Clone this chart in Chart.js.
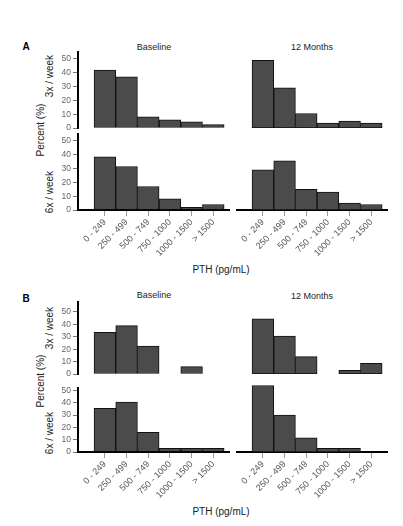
<!DOCTYPE html>
<html>
<head>
<meta charset="utf-8">
<script src="https://cdn.jsdelivr.net/npm/chart.js@4"></script>
<style>
  body { margin: 0; background: #fff; width: 403px; height: 526px; position: relative; overflow: hidden;
         font-family: "Liberation Sans", Arial, sans-serif; }
  canvas { position: absolute; }
  .t { position: absolute; white-space: nowrap; transform: translate(-50%, -50%); color: #222; line-height: 1; }
  .v { transform: translate(-50%, -50%) rotate(-90deg); }
</style>
</head>
<body>

<div class="t" style="left:26px;top:47px;font-size:10px;font-weight:bold;color:#000;">A</div>
<div class="t" style="left:154px;top:47px;font-size:9px;">Baseline</div>
<div class="t" style="left:312px;top:47px;font-size:9px;">12 Months</div>
<div class="t v" style="left:41px;top:130px;font-size:10px;">Percent (%)</div>
<div class="t v" style="left:50px;top:76px;font-size:10px;">3x / week</div>
<div class="t v" style="left:50px;top:192px;font-size:10px;">6x / week</div>
<div class="t" style="left:221px;top:270px;font-size:10px;">PTH (pg/mL)</div>

<div class="t" style="left:26px;top:299px;font-size:10px;font-weight:bold;color:#000;">B</div>
<div class="t" style="left:154px;top:295px;font-size:9px;">Baseline</div>
<div class="t" style="left:312px;top:296px;font-size:9px;">12 Months</div>
<div class="t v" style="left:41px;top:381px;font-size:10px;">Percent (%)</div>
<div class="t v" style="left:50px;top:328px;font-size:10px;">3x / week</div>
<div class="t v" style="left:50px;top:433px;font-size:10px;">6x / week</div>
<div class="t" style="left:221px;top:512px;font-size:10px;">PTH (pg/mL)</div>

<script>
// PTH categories
const pthLabels = ["0 - 249", "250 - 499", "500 - 749", "750 - 1000", "1000 - 1500", "> 1500"];
const yTicks = [0, 10, 20, 30, 40, 50];

// Panel A (percent of patients)
const aBase3x = [42, 37, 8, 6, 4.5, 2.5];
const a12m3x = [49, 29, 10.5, 3.5, 5, 3.5];
const aBase6x = [38.5, 31.5, 17, 8, 2, 4];
const a12m6x = [29, 35.5, 15, 13, 5, 4];

// Panel B
const bBase3x = [33.5, 39, 22.5, 0, 6, 0];
const b12m3x = [44.5, 30.5, 14, 0, 3, 8.5];
const bBase6x = [35.5, 40.5, 16, 3, 3, 3];
const b12m6x = [54, 30, 11.5, 3, 3, 0];

Chart.defaults.font.family = '"Liberation Sans", Arial, sans-serif';

const panels = [
  { data: aBase3x, left: 48, top: 44, h: 92, yAxis: true, xAxis: false, max: 55 },
  { data: a12m3x, left: 236, top: 44, h: 92, yAxis: false, xAxis: false, max: 55 },
  { data: aBase6x, left: 48, top: 126, h: 134, yAxis: true, xAxis: true, max: 55 },
  { data: a12m6x, left: 236, top: 126, h: 134, yAxis: false, xAxis: true, max: 55 },
  { data: bBase3x, left: 48, top: 294, h: 88, yAxis: true, xAxis: false, max: 58 },
  { data: b12m3x, left: 236, top: 294, h: 88, yAxis: false, xAxis: false, max: 58 },
  { data: bBase6x, left: 48, top: 380, h: 122, yAxis: true, xAxis: true, max: 52 },
  { data: b12m6x, left: 236, top: 375, h: 127, yAxis: false, xAxis: true, max: 56 }
];

panels.forEach(p => {
  const canvas = document.createElement("canvas");
  const w = p.yAxis ? 182 : 152;
  canvas.width = w;
  canvas.height = p.h;
  canvas.style.left = p.left + "px";
  canvas.style.top = p.top + "px";
  canvas.style.width = w + "px";
  canvas.style.height = p.h + "px";
  document.body.appendChild(canvas);

  new Chart(canvas.getContext("2d"), {
    type: "bar",
    data: {
      datasets: [{
        data: p.data.map((v, i) => ({ x: i, y: v })),
        backgroundColor: "#4b4b4b",
        borderColor: "#111",
        borderWidth: 1,
        borderSkipped: false,
        barPercentage: 1,
        categoryPercentage: 1
      }]
    },
    options: {
      responsive: false,
      animation: false,
      layout: { padding: { top: 8, bottom: p.xAxis ? 0 : 8, left: 0, right: 0 } },
      plugins: { legend: { display: false }, tooltip: { enabled: false } },
      scales: {
        x: {
          type: "linear",
          display: p.xAxis,
          min: -1.24,
          max: 5.77,
          offset: false,
          afterBuildTicks: s => { s.ticks = pthLabels.map((_, i) => ({ value: i })); },
          afterFit: s => { if (p.xAxis) s.height = 50; },
          border: { display: true, color: "#000", width: 2 },
          grid: { display: true, drawOnChartArea: false, drawTicks: true, tickLength: 6, color: "#999", offset: false },
          ticks: {
            autoSkip: false,
            minRotation: 45,
            maxRotation: 45,
            padding: 1,
            color: "#555",
            font: { size: 9 },
            callback: v => pthLabels[v] ?? ""
          }
        },
        y: {
          display: p.yAxis,
          min: 0,
          max: p.max,
          afterBuildTicks: s => { s.ticks = yTicks.map(v => ({ value: v })); },
          afterFit: s => { if (p.yAxis) s.width = 30; },
          border: { display: true, color: "#000", width: 2 },
          grid: { display: true, drawOnChartArea: false, drawTicks: true, tickLength: 5, color: "#777" },
          ticks: { autoSkip: false, padding: 2, color: "#666", font: { size: 8.5 } }
        }
      }
    }
  });
});
</script>
</body>
</html>
